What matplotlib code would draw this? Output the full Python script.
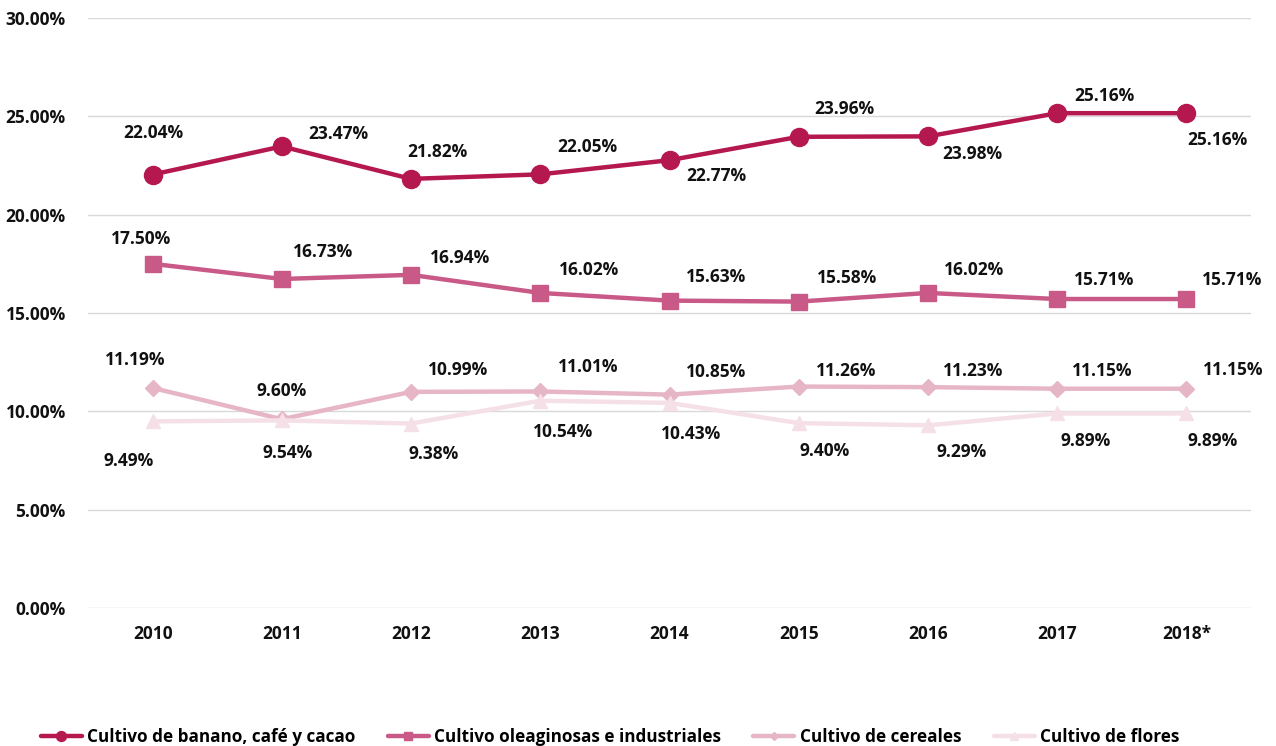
import matplotlib.pyplot as plt

plt.rcParams['font.family'] = ['Open Sans', 'DejaVu Sans']
plt.rcParams['font.weight'] = 'bold'

years = ['2010', '2011', '2012', '2013', '2014', '2015', '2016', '2017', '2018*']
banano = [22.04, 23.47, 21.82, 22.05, 22.77, 23.96, 23.98, 25.16, 25.16]
oleaginosas = [17.50, 16.73, 16.94, 16.02, 15.63, 15.58, 16.02, 15.71, 15.71]
cereales = [11.19, 9.60, 10.99, 11.01, 10.85, 11.26, 11.23, 11.15, 11.15]
flores = [9.49, 9.54, 9.38, 10.54, 10.43, 9.40, 9.29, 9.89, 9.89]

names = ['Cultivo de banano, café y cacao', 'Cultivo oleaginosas e industriales',
         'Cultivo de cereales', 'Cultivo de flores']

# label offsets in pixels (dx, dy) from each point
off_banano = [(1, 42), (57, 12), (26, 27), (47, 27), (47, -16), (46, 28), (44, -18), (47, 17), (31, -27)]
off_olea = [(-12, 25), (41, 27), (49, 17), (49, 23), (47, 24), (48, 24), (46, 23), (47, 19), (46, 19)]
off_cer = [(-17, 28), (0, 28), (47, 22), (48, 24), (47, 23), (47, 16), (45, 16), (45, 18), (47, 19)]
off_flo = [(-24, -40), (6, -33), (23, -30), (23, -31), (22, -31), (26, -28), (34, -27), (28, -28), (26, -28)]

series = [
    (banano, '#B5174F', 'o', 13, off_banano),
    (oleaginosas, '#C95A88', 's', 11, off_olea),
    (cereales, '#E6B5C6', 'D', 8, off_cer),
    (flores, '#F5E0E7', '^', 10, off_flo),
]

fig = plt.figure(figsize=(12.76, 7.46), dpi=100)
ax = fig.add_axes([88 / 1276, 138 / 746, 1163 / 1276, 590 / 746])

x = list(range(len(years)))
for (vals, color, mk, ms, offs), name in zip(series, names):
    ax.plot(x, vals, color=color, lw=3.2, marker=mk, markersize=ms, label=name,
            solid_capstyle='round', zorder=3)
    for xi, v, (dx, dy) in zip(x, vals, offs):
        ax.annotate(f'{v:.2f}%', (xi, v), xytext=(dx * 0.72, dy * 0.72),
                    textcoords='offset points', ha='center', va='center',
                    fontsize=12.5, fontweight='bold', color='#111111', zorder=4)

ax.set_xlim(-0.5, len(years) - 0.5)
ax.set_ylim(0, 30)
ax.set_yticks([0, 5, 10, 15, 20, 25, 30])
ax.set_yticklabels([f'{t:.2f}%' for t in [0, 5, 10, 15, 20, 25, 30]])
ax.set_xticks(x)
ax.set_xticklabels(years)
ax.tick_params(axis='both', length=0, labelsize=12.5, colors='#111111')
ax.tick_params(axis='y', pad=16)
ax.tick_params(axis='x', pad=12)
for lab in ax.get_xticklabels() + ax.get_yticklabels():
    lab.set_fontweight('bold')
ax.grid(axis='y', color='#D9D9D9', lw=1)
ax.set_axisbelow(True)
for s in ax.spines.values():
    s.set_visible(False)

fig.legend(loc='center', bbox_to_anchor=(610 / 1276, 1 - 737 / 746), ncol=4, frameon=False,
           prop={'size': 12.3, 'weight': 'bold'}, handlelength=2.4, columnspacing=1.9,
           handletextpad=0.3, markerscale=0.55)

fig.savefig('out.png', dpi=100)
